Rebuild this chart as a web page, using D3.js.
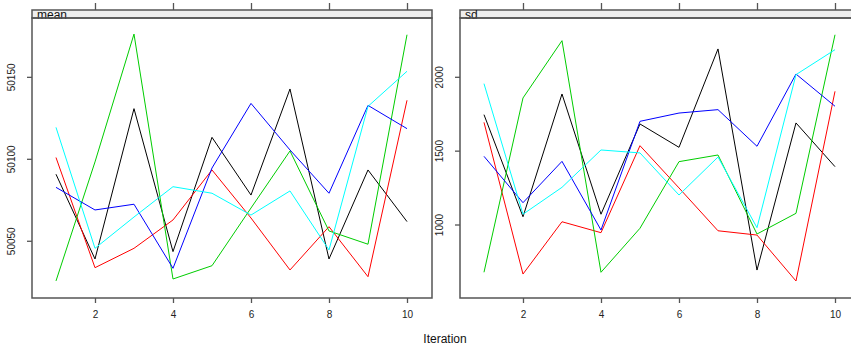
<!DOCTYPE html>
<html>
<head>
<meta charset="utf-8">
<script src="https://cdn.jsdelivr.net/npm/d3@7"></script>
<style>
  body { margin: 0; background: #fff; }
  text { font-family: "Liberation Sans", Arial, sans-serif; }
</style>
</head>
<body>
<div id="trace_plot"></div>
<script>
// iterations on the x axis
var iterations = [1, 2, 3, 4, 5, 6, 7, 8, 9, 10];
var xTicks = [2, 4, 6, 8, 10];

// chain colours (R palette 1:5)
var chainColors = ["#000000", "#ff0000", "#00cd00", "#0000ff", "#00ffff"];

// mean panel, one array per chain
var meanBlack = [50090.9, 50039.2, 50130.9, 50043.7, 50113.4, 50078.2, 50142.9, 50039.2, 50093.5, 50062.0];
var meanRed   = [50101.1, 50033.9, 50045.7, 50063.0, 50093.5, 50064.2, 50032.5, 50058.9, 50028.4, 50136.0];
var meanGreen = [50025.8, 50098.4, 50176.4, 50027.0, 50035.1, 50070.3, 50105.1, 50056.3, 50048.2, 50176.0];
var meanBlue  = [50082.9, 50069.1, 50072.6, 50033.5, 50094.7, 50134.1, 50105.7, 50079.3, 50132.9, 50118.7];
var meanCyan  = [50119.5, 50045.7, 50064.8, 50083.3, 50079.3, 50066.0, 50080.7, 50044.7, 50132.3, 50153.7];

// sd panel, one array per chain
var sdBlack = [1747, 1056, 1887, 1073, 1684, 1526, 2192, 695, 1691, 1395];
var sdRed   = [1695, 668, 1022, 948, 1537, 1251, 961, 932, 621, 1905];
var sdGreen = [680, 1860, 2248, 680, 978, 1429, 1474, 939, 1079, 2288];
var sdBlue  = [1465, 1151, 1431, 966, 1702, 1758, 1781, 1533, 2022, 1804];
var sdCyan  = [1957, 1073, 1255, 1508, 1488, 1203, 1460, 982, 2018, 2187];

var meanTicks = [50050, 50100, 50150];
var sdTicks = [1000, 1500, 2000];

var panels = [
  { name: "mean", chains: [meanBlack, meanRed, meanGreen, meanBlue, meanCyan], ticks: meanTicks, domain: [50015.4, 50186.2], left: 32 },
  { name: "sd", chains: [sdBlack, sdRed, sdGreen, sdBlue, sdCyan], ticks: sdTicks, domain: [505.8, 2401.5], left: 460 }
];

var width = 851, height = 352;
var panelWidth = 400;
var stripTop = 10, stripBottom = 18, panelBottom = 298;
var axisColor = "#555555";

var svg = d3.select("#trace_plot")
  .append("svg")
  .attr("width", width)
  .attr("height", height);

panels.forEach(function (p) {
  var x = d3.scaleLinear()
    .domain([0.385, 10.641])
    .range([p.left, p.left + panelWidth]);
  var y = d3.scaleLinear()
    .domain(p.domain)
    .range([panelBottom, stripBottom]);

  var g = svg.append("g");

  // strip with the panel name
  g.append("rect")
    .attr("x", p.left)
    .attr("y", stripTop)
    .attr("width", panelWidth)
    .attr("height", stripBottom - stripTop)
    .style("fill", "#eeeeee")
    .style("stroke", axisColor)
    .style("stroke-width", 1.5);

  g.append("text")
    .attr("x", p.left + 5)
    .attr("y", stripBottom + 1)
    .style("font-size", "12px")
    .style("fill", "#111")
    .text(p.name);

  // the chains, clipped to the panel
  var clipId = "clip-" + p.name;
  g.append("clipPath")
    .attr("id", clipId)
    .append("rect")
    .attr("x", p.left)
    .attr("y", stripBottom)
    .attr("width", panelWidth)
    .attr("height", panelBottom - stripBottom);

  var line = d3.line()
    .x(function (d, i) { return x(iterations[i]); })
    .y(function (d) { return y(d); });

  g.append("g")
    .attr("clip-path", "url(#" + clipId + ")")
    .selectAll("path")
    .data(p.chains)
    .enter()
    .append("path")
    .attr("d", line)
    .style("fill", "none")
    .style("stroke", function (d, i) { return chainColors[i]; })
    .style("stroke-width", 1);

  // panel border
  g.append("rect")
    .attr("x", p.left)
    .attr("y", stripBottom)
    .attr("width", panelWidth)
    .attr("height", panelBottom - stripBottom)
    .style("fill", "none")
    .style("stroke", axisColor)
    .style("stroke-width", 1.5);

  // bottom axis
  var bottom = g.append("g")
    .attr("transform", "translate(0," + panelBottom + ")")
    .call(d3.axisBottom(x).tickValues(xTicks).tickSize(5).tickPadding(8));

  // top ticks only
  var top = g.append("g")
    .attr("transform", "translate(0," + stripTop + ")")
    .call(d3.axisTop(x).tickValues(xTicks).tickSize(7).tickFormat(""));

  // left axis, labels turned vertical
  var leftAxis = g.append("g")
    .attr("transform", "translate(" + p.left + ",0)")
    .call(d3.axisLeft(y).tickValues(p.ticks).tickSize(5).tickFormat(d3.format("d")));

  leftAxis.selectAll("text")
    .attr("transform", function (d) { return "rotate(-90," + (-17) + "," + y(d) + ")"; })
    .attr("x", -17)
    .attr("y", y)
    .attr("dy", "0")
    .style("text-anchor", "middle");
  leftAxis.selectAll(".tick").attr("transform", null);
  leftAxis.selectAll(".tick line")
    .attr("y1", function (d) { return y(d); })
    .attr("y2", function (d) { return y(d); });

  [bottom, top, leftAxis].forEach(function (a) {
    a.select(".domain").remove();
    a.selectAll("line").style("stroke", axisColor).style("stroke-width", 1.3);
    a.selectAll("text").style("font-size", "10px").style("fill", "#222")
      .style("font-family", "'Liberation Sans', Arial, sans-serif");
  });
});

// x axis title
svg.append("text")
  .attr("x", 445)
  .attr("y", 343)
  .style("text-anchor", "middle")
  .style("font-size", "12px")
  .style("fill", "#111")
  .text("Iteration");
</script>
</body>
</html>
